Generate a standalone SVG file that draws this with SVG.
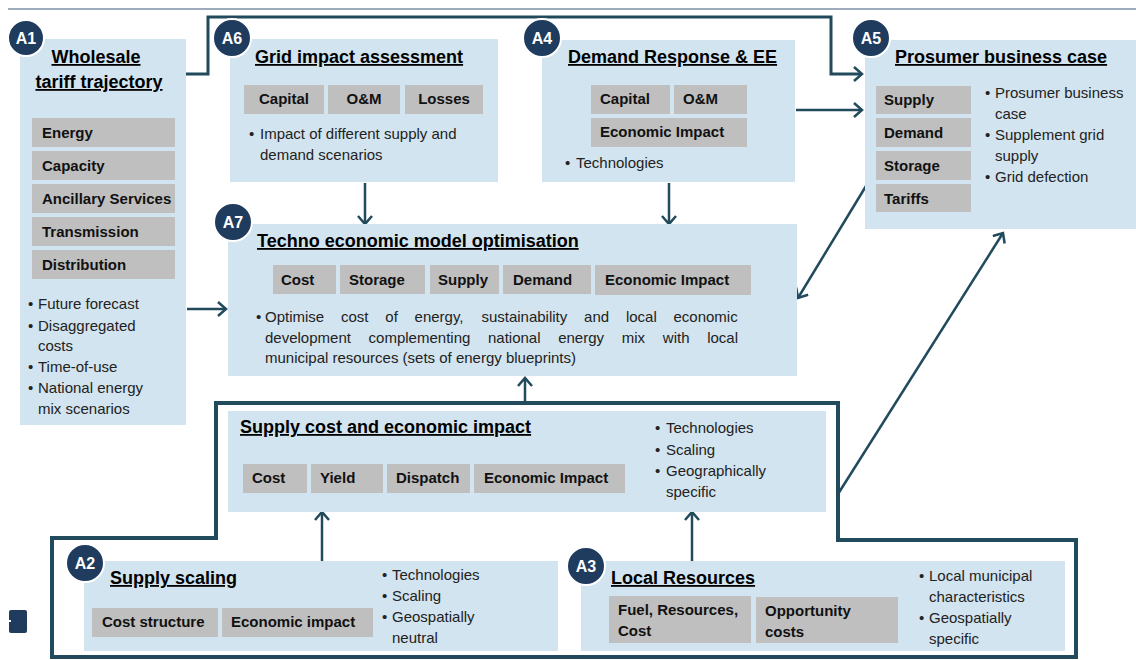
<svg xmlns="http://www.w3.org/2000/svg" width="1136" height="660" viewBox="0 0 1136 660">
  <defs>
    <style>
      .box { fill: #d2e4ef; }
      .cell { fill: #bfbfbf; }
      .title { font-family: "Liberation Sans", Arial, sans-serif; font-weight: bold; font-size: 18px; fill: #000; text-decoration: underline; }
      .lbl { font-family: "Liberation Sans", Arial, sans-serif; font-weight: bold; font-size: 15px; fill: #111; }
      .txt { font-family: "Liberation Sans", Arial, sans-serif; font-size: 15px; fill: #222; }
      .badge circle { fill: #1f3b5e; stroke: #ffffff; stroke-width: 2; }
      .badge text { font-family: "Liberation Sans", Arial, sans-serif; font-weight: bold; font-size: 16px; fill: #ffffff; text-anchor: middle; }
      .conn { fill: none; stroke: #214a5c; stroke-width: 2.5; }
      .thick { fill: none; stroke: #214a5c; stroke-width: 3; }
      .frame { fill: none; stroke: #214a5c; stroke-width: 4; }
    </style>
    <marker id="arrow" markerUnits="userSpaceOnUse" markerWidth="16" markerHeight="16" refX="10" refY="8" orient="auto">
      <path d="M2,1 L10,8 L2,15" fill="none" stroke="#214a5c" stroke-width="2.5"/>
    </marker>
  </defs>

  <rect width="1136" height="660" fill="#ffffff"/>

  <!-- header rule -->
  <line x1="8" y1="9" x2="1136" y2="9" stroke="#3d5a78" stroke-width="1.2"/>

  <!-- small cut-off tab on the left margin -->
  <rect x="9" y="610" width="18" height="23" rx="2" fill="#1f3b5e"/>
  <rect x="7" y="620" width="4" height="2" fill="#ffffff"/>

  <!-- connectors -->
  <g id="connectors">
    <path class="thick" d="M186,74 H208 V17 H831 V74 H862" marker-end="url(#arrow)"/>
    <path class="conn" d="M796,110 H862" marker-end="url(#arrow)"/>
    <path class="conn" d="M365,183 V224" marker-end="url(#arrow)"/>
    <path class="conn" d="M669,183 V224" marker-end="url(#arrow)"/>
    <path class="conn" d="M187,309 H226" marker-end="url(#arrow)"/>
    <path class="conn" d="M866,186 L798,298" marker-end="url(#arrow)"/>
    <path class="frame" d="M216,403 H838 V540 H1076 V657 H52 V538 H216 Z"/>
    <path class="conn" d="M525,403 V378" marker-end="url(#arrow)"/>
    <path class="conn" d="M838,494 L1003,233" marker-end="url(#arrow)"/>
    <path class="conn" d="M322,561 V512" marker-end="url(#arrow)"/>
    <path class="conn" d="M692,561 V512" marker-end="url(#arrow)"/>
  </g>

  <!-- A1 -->
  <g id="a1">
    <rect class="box" x="20" y="39" width="166" height="386"/>
    <text class="title" x="96" y="63" text-anchor="middle">Wholesale</text>
    <text class="title" x="99" y="88" text-anchor="middle">tariff trajectory</text>
    <rect class="cell" x="32" y="118" width="143" height="29"/>
    <rect class="cell" x="32" y="151" width="143" height="29"/>
    <rect class="cell" x="32" y="184" width="143" height="29"/>
    <rect class="cell" x="32" y="217" width="143" height="29"/>
    <rect class="cell" x="32" y="250" width="143" height="29"/>
    <text class="lbl" x="42" y="138">Energy</text>
    <text class="lbl" x="42" y="171">Capacity</text>
    <text class="lbl" x="42" y="204">Ancillary Services</text>
    <text class="lbl" x="42" y="237">Transmission</text>
    <text class="lbl" x="42" y="270">Distribution</text>
    <text class="txt" x="28" y="309">•</text><text class="txt" x="38" y="309">Future forecast</text>
    <text class="txt" x="28" y="331">•</text><text class="txt" x="38" y="331">Disaggregated</text>
    <text class="txt" x="38" y="351">costs</text>
    <text class="txt" x="28" y="372">•</text><text class="txt" x="38" y="372">Time-of-use</text>
    <text class="txt" x="28" y="393">•</text><text class="txt" x="38" y="393">National energy</text>
    <text class="txt" x="38" y="414">mix scenarios</text>
    <g class="badge"><circle cx="26" cy="38" r="18"/><text x="26" y="44">A1</text></g>
  </g>

  <!-- A6 -->
  <g id="a6">
    <rect class="box" x="230" y="39" width="268" height="143"/>
    <text class="title" x="255" y="63">Grid impact assessment</text>
    <rect class="cell" x="244" y="85" width="80" height="29"/>
    <rect class="cell" x="328" y="85" width="72" height="29"/>
    <rect class="cell" x="405" y="85" width="78" height="29"/>
    <text class="lbl" x="284" y="104" text-anchor="middle">Capital</text>
    <text class="lbl" x="364" y="104" text-anchor="middle">O&amp;M</text>
    <text class="lbl" x="444" y="104" text-anchor="middle">Losses</text>
    <text class="txt" x="249" y="139">•</text><text class="txt" x="260" y="139">Impact of different supply and</text>
    <text class="txt" x="260" y="160">demand scenarios</text>
    <g class="badge"><circle cx="232" cy="38" r="19"/><text x="232" y="44">A6</text></g>
  </g>

  <!-- A4 -->
  <g id="a4">
    <rect class="box" x="542" y="40" width="253" height="142"/>
    <text class="title" x="568" y="63">Demand Response &amp; EE</text>
    <rect class="cell" x="591" y="85" width="79" height="29"/>
    <rect class="cell" x="674" y="85" width="73" height="29"/>
    <rect class="cell" x="591" y="118" width="156" height="29"/>
    <text class="lbl" x="600" y="104">Capital</text>
    <text class="lbl" x="683" y="104">O&amp;M</text>
    <text class="lbl" x="600" y="137">Economic Impact</text>
    <text class="txt" x="565" y="168">•</text><text class="txt" x="576" y="168">Technologies</text>
    <g class="badge"><circle cx="542" cy="38" r="19"/><text x="542" y="44">A4</text></g>
  </g>

  <!-- A5 -->
  <g id="a5">
    <rect class="box" x="865" y="40" width="271" height="189"/>
    <text class="title" x="895" y="63">Prosumer business case</text>
    <rect class="cell" x="876" y="86" width="95" height="28"/>
    <rect class="cell" x="876" y="118" width="95" height="29"/>
    <rect class="cell" x="876" y="151" width="95" height="29"/>
    <rect class="cell" x="876" y="184" width="95" height="28"/>
    <text class="lbl" x="884" y="105">Supply</text>
    <text class="lbl" x="884" y="138">Demand</text>
    <text class="lbl" x="884" y="171">Storage</text>
    <text class="lbl" x="884" y="204">Tariffs</text>
    <text class="txt" x="985" y="98">•</text><text class="txt" x="995" y="98">Prosumer business</text>
    <text class="txt" x="995" y="119">case</text>
    <text class="txt" x="985" y="140">•</text><text class="txt" x="995" y="140">Supplement grid</text>
    <text class="txt" x="995" y="161">supply</text>
    <text class="txt" x="985" y="182">•</text><text class="txt" x="995" y="182">Grid defection</text>
    <g class="badge"><circle cx="871" cy="38" r="19"/><text x="871" y="44">A5</text></g>
  </g>

  <!-- A7 -->
  <g id="a7">
    <rect class="box" x="228" y="224" width="569" height="152"/>
    <text class="title" x="257" y="247">Techno economic model optimisation</text>
    <rect class="cell" x="273" y="265" width="63" height="29"/>
    <rect class="cell" x="340" y="265" width="85" height="29"/>
    <rect class="cell" x="430" y="265" width="69" height="29"/>
    <rect class="cell" x="503" y="265" width="88" height="29"/>
    <rect class="cell" x="595" y="265" width="156" height="30"/>
    <text class="lbl" x="281" y="285">Cost</text>
    <text class="lbl" x="349" y="285">Storage</text>
    <text class="lbl" x="438" y="285">Supply</text>
    <text class="lbl" x="513" y="285">Demand</text>
    <text class="lbl" x="605" y="285">Economic Impact</text>
    <!-- justified paragraph: words placed so both full lines span x 265 to 738 -->
    <text class="txt" x="256" y="322">•</text>
    <text class="txt" y="322"><tspan x="265">Optimise</tspan><tspan x="341">cost</tspan><tspan x="385.3">of</tspan><tspan x="414.6">energy,</tspan><tspan x="481.4">sustainability</tspan><tspan x="584.1">and</tspan><tspan x="625.9">local</tspan><tspan x="673.5">economic</tspan></text>
    <text class="txt" y="343"><tspan x="265">development</tspan><tspan x="368.6">complementing</tspan><tspan x="488">national</tspan><tspan x="558.2">energy</tspan><tspan x="621.8">mix</tspan><tspan x="662.8">with</tspan><tspan x="707.2">local</tspan></text>
    <text class="txt" x="265" y="363">municipal resources (sets of energy blueprints)</text>
    <g class="badge"><circle cx="233" cy="222" r="19"/><text x="233" y="228">A7</text></g>
  </g>

  <!-- supply cost and economic impact -->
  <g id="supply-cost">
    <rect class="box" x="228" y="411" width="598" height="101"/>
    <text class="title" x="240" y="433">Supply cost and economic impact</text>
    <rect class="cell" x="243" y="464" width="64" height="29"/>
    <rect class="cell" x="311" y="464" width="72" height="29"/>
    <rect class="cell" x="387" y="464" width="83" height="29"/>
    <rect class="cell" x="474" y="464" width="151" height="29"/>
    <text class="lbl" x="252" y="483">Cost</text>
    <text class="lbl" x="320" y="483">Yield</text>
    <text class="lbl" x="396" y="483">Dispatch</text>
    <text class="lbl" x="484" y="483">Economic Impact</text>
    <text class="txt" x="655" y="433">•</text><text class="txt" x="666" y="433">Technologies</text>
    <text class="txt" x="655" y="455">•</text><text class="txt" x="666" y="455">Scaling</text>
    <text class="txt" x="655" y="476">•</text><text class="txt" x="666" y="476">Geographically</text>
    <text class="txt" x="666" y="497">specific</text>
  </g>

  <!-- A2 -->
  <g id="a2">
    <rect class="box" x="84" y="561" width="474" height="90"/>
    <text class="title" x="110" y="584">Supply scaling</text>
    <rect class="cell" x="92" y="608" width="126" height="29"/>
    <rect class="cell" x="222" y="608" width="151" height="29"/>
    <text class="lbl" x="102" y="627">Cost structure</text>
    <text class="lbl" x="231" y="627">Economic impact</text>
    <text class="txt" x="382" y="580">•</text><text class="txt" x="392" y="580">Technologies</text>
    <text class="txt" x="382" y="601">•</text><text class="txt" x="392" y="601">Scaling</text>
    <text class="txt" x="382" y="622">•</text><text class="txt" x="392" y="622">Geospatially</text>
    <text class="txt" x="392" y="643">neutral</text>
    <g class="badge"><circle cx="85" cy="563" r="19"/><text x="85" y="569">A2</text></g>
  </g>

  <!-- A3 -->
  <g id="a3">
    <rect class="box" x="581" y="561" width="484" height="90"/>
    <text class="title" x="611" y="584">Local Resources</text>
    <rect class="cell" x="609" y="596" width="142" height="47"/>
    <rect class="cell" x="756" y="597" width="142" height="46"/>
    <text class="lbl" x="618" y="615">Fuel, Resources,</text>
    <text class="lbl" x="618" y="636">Cost</text>
    <text class="lbl" x="765" y="616">Opportunity</text>
    <text class="lbl" x="765" y="637">costs</text>
    <text class="txt" x="919" y="581">•</text><text class="txt" x="929" y="581">Local municipal</text>
    <text class="txt" x="929" y="602">characteristics</text>
    <text class="txt" x="919" y="623">•</text><text class="txt" x="929" y="623">Geospatially</text>
    <text class="txt" x="929" y="644">specific</text>
    <g class="badge"><circle cx="586" cy="566" r="19"/><text x="586" y="572">A3</text></g>
  </g>
</svg>
